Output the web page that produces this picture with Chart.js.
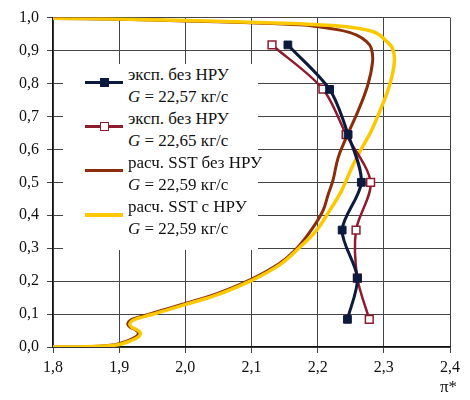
<!DOCTYPE html>
<html>
<head>
<meta charset="utf-8">
<script src="https://cdn.jsdelivr.net/npm/chart.js@4.4.1/dist/chart.umd.min.js"></script>
<style>
  body { margin: 0; background: #fff; }
  #wrap { position: relative; width: 470px; height: 400px; }
  #legend {
    position: absolute; left: 63px; top: 64px; width: 195px; height: 186px;
    background: #fff; font-family: "Liberation Serif", Tinos, "DejaVu Serif", serif;
    font-size: 17px; color: #111;
  }
  .entry { position: relative; height: 44px; }
  .entry .txt { position: absolute; left: 65px; top: 0; line-height: 22px; white-space: nowrap; }
  .entry .sample { position: absolute; left: 22px; top: 17px; width: 38px; }
  .entry .mark { position: absolute; left: 15px; width: 9px; height: 9px; box-sizing: border-box; }
  #xtitle {
    position: absolute; left: 440px; top: 377px;
    font-family: "Liberation Serif", Tinos, "DejaVu Serif", serif; font-size: 17px; color: #111;
  }
</style>
</head>
<body>
<div id="wrap">
  <canvas id="chart"></canvas>
  <div id="legend"></div>
  <div id="xtitle">π*</div>
</div>
<script>
// эксп. без НРУ, G = 22,57 кг/с
const exp57X = [2.245, 2.260, 2.237, 2.266, 2.246, 2.218, 2.155];
const exp57Y = [0.084, 0.209, 0.355, 0.500, 0.645, 0.782, 0.917];

// эксп. без НРУ, G = 22,65 кг/с
const exp65X = [2.278, 2.260, 2.258, 2.280, 2.243, 2.208, 2.131];
const exp65Y = [0.084, 0.209, 0.355, 0.500, 0.645, 0.783, 0.917];

// расч. SST без НРУ
const sstNoX = [1.800, 1.850, 1.894, 1.913, 1.926, 1.929, 1.924, 1.916, 1.913, 1.917,
                1.927, 1.944, 1.969, 2.000, 2.048, 2.096, 2.141, 2.170, 2.193, 2.208,
                2.216, 2.223, 2.231, 2.243, 2.261, 2.276, 2.283, 2.281, 2.274, 2.259,
                2.234, 2.198, 2.173, 2.098, 2.000, 1.900, 1.800];
const sstNoY = [0.000, 0.001, 0.007, 0.019, 0.032, 0.043, 0.053, 0.061, 0.071, 0.081,
                0.089, 0.099, 0.114, 0.132, 0.162, 0.202, 0.252, 0.303, 0.363, 0.414,
                0.464, 0.505, 0.575, 0.635, 0.716, 0.797, 0.867, 0.907, 0.927, 0.947,
                0.962, 0.973, 0.978, 0.984, 0.990, 0.995, 0.997];

// расч. SST с НРУ
const sstWithX = [1.800, 1.850, 1.896, 1.916, 1.929, 1.932, 1.927, 1.919, 1.916, 1.920,
                  1.930, 1.947, 1.972, 2.002, 2.050, 2.098, 2.143, 2.173, 2.198, 2.218,
                  2.236, 2.254, 2.267, 2.281, 2.294, 2.309, 2.316, 2.313, 2.304, 2.289,
                  2.259, 2.223, 2.173, 2.098, 2.000, 1.900, 1.800];
const sstWithY = [0.000, 0.001, 0.006, 0.018, 0.031, 0.042, 0.052, 0.060, 0.070, 0.080,
                  0.088, 0.097, 0.112, 0.130, 0.160, 0.200, 0.250, 0.303, 0.353, 0.414,
                  0.474, 0.555, 0.605, 0.656, 0.716, 0.797, 0.867, 0.907, 0.928, 0.953,
                  0.968, 0.976, 0.981, 0.986, 0.991, 0.996, 0.998];

const seriesNames = ['эксп. без НРУ', 'эксп. без НРУ', 'расч. SST без НРУ', 'расч. SST с НРУ'];
const seriesG = ['22,57', '22,65', '22,59', '22,59'];

const xRange = [1.8, 2.4];
const yRange = [0.0, 1.0];

const NAVY = '#0c1a3e';
const MAROON = '#8e1b2e';
const BROWN = '#8a2d0a';
const YELLOW = '#fcc800';

function toPoints(xs, ys) {
  return xs.map((x, i) => ({ x: x, y: ys[i] }));
}

const serif = '"Liberation Serif", Tinos, "DejaVu Serif", serif';
const comma = v => v.toFixed(1).replace('.', ',');

const chart = new Chart(document.getElementById('chart'), {
  type: 'scatter',
  data: {
    datasets: [
      {
        label: seriesNames[0], data: toPoints(exp57X, exp57Y), showLine: true,
        borderColor: NAVY, borderWidth: 3, tension: 0.3,
        pointStyle: 'rect', pointRadius: 5.5, pointBackgroundColor: NAVY, pointBorderColor: NAVY,
        pointBorderWidth: 1, order: 0
      },
      {
        label: seriesNames[1], data: toPoints(exp65X, exp65Y), showLine: true,
        borderColor: MAROON, borderWidth: 2.5, tension: 0.3,
        pointStyle: 'rect', pointRadius: 5.5, pointBackgroundColor: '#fff',
        pointBorderColor: MAROON, pointBorderWidth: 1.5, order: 1
      },
      {
        label: seriesNames[2], data: toPoints(sstNoX, sstNoY), showLine: true,
        borderColor: BROWN, borderWidth: 3, tension: 0.4, pointRadius: 0,
        order: 3
      },
      {
        label: seriesNames[3], data: toPoints(sstWithX, sstWithY), showLine: true,
        borderColor: YELLOW, borderWidth: 3.5, tension: 0.4, pointRadius: 0,
        order: 2
      }
    ]
  },
  options: {
    responsive: true,
    maintainAspectRatio: false,
    animation: false,
    layout: { padding: { top: 16, right: 20, left: 0, bottom: 0 } },
    plugins: { legend: { display: false }, tooltip: { enabled: false } },
    scales: {
      x: {
        type: 'linear', min: xRange[0], max: xRange[1],
        afterFit: s => { s.height = 53; },
        ticks: { stepSize: 0.1, callback: comma, color: '#111', padding: 5,
                 font: { family: serif, size: 16 }, maxRotation: 0 },
        grid: { color: '#444', lineWidth: 1, tickLength: 6 },
        border: { color: '#111', width: 1.2 }
      },
      y: {
        type: 'linear', min: yRange[0], max: yRange[1],
        afterFit: s => { s.width = 53; },
        ticks: { stepSize: 0.1, callback: comma, color: '#111', padding: 8,
                 font: { family: serif, size: 16 } },
        grid: { color: '#444', lineWidth: 1, tickLength: 6 },
        border: { color: '#111', width: 1.2 }
      }
    }
  }
});

// legend box drawn over the grid, two text lines per series
const legend = document.getElementById('legend');
chart.data.datasets.forEach((ds, i) => {
  const entry = document.createElement('div');
  entry.className = 'entry';
  const txt = document.createElement('div');
  txt.className = 'txt';
  txt.innerHTML = seriesNames[i] + '<br><i>G</i> = ' + seriesG[i] + ' кг/с';
  const sample = document.createElement('div');
  sample.className = 'sample';
  sample.style.height = ds.borderWidth + 'px';
  sample.style.background = ds.borderColor;
  entry.appendChild(sample);
  if (ds.pointRadius) {
    const mark = document.createElement('div');
    mark.className = 'mark';
    mark.style.top = (ds.borderWidth / 2 - 4.5) + 'px';
    mark.style.background = ds.pointBackgroundColor;
    mark.style.border = (ds.pointBorderWidth || 1) + 'px solid ' + ds.pointBorderColor;
    sample.appendChild(mark);
  }
  entry.appendChild(txt);
  legend.appendChild(entry);
});
</script>
</body>
</html>
